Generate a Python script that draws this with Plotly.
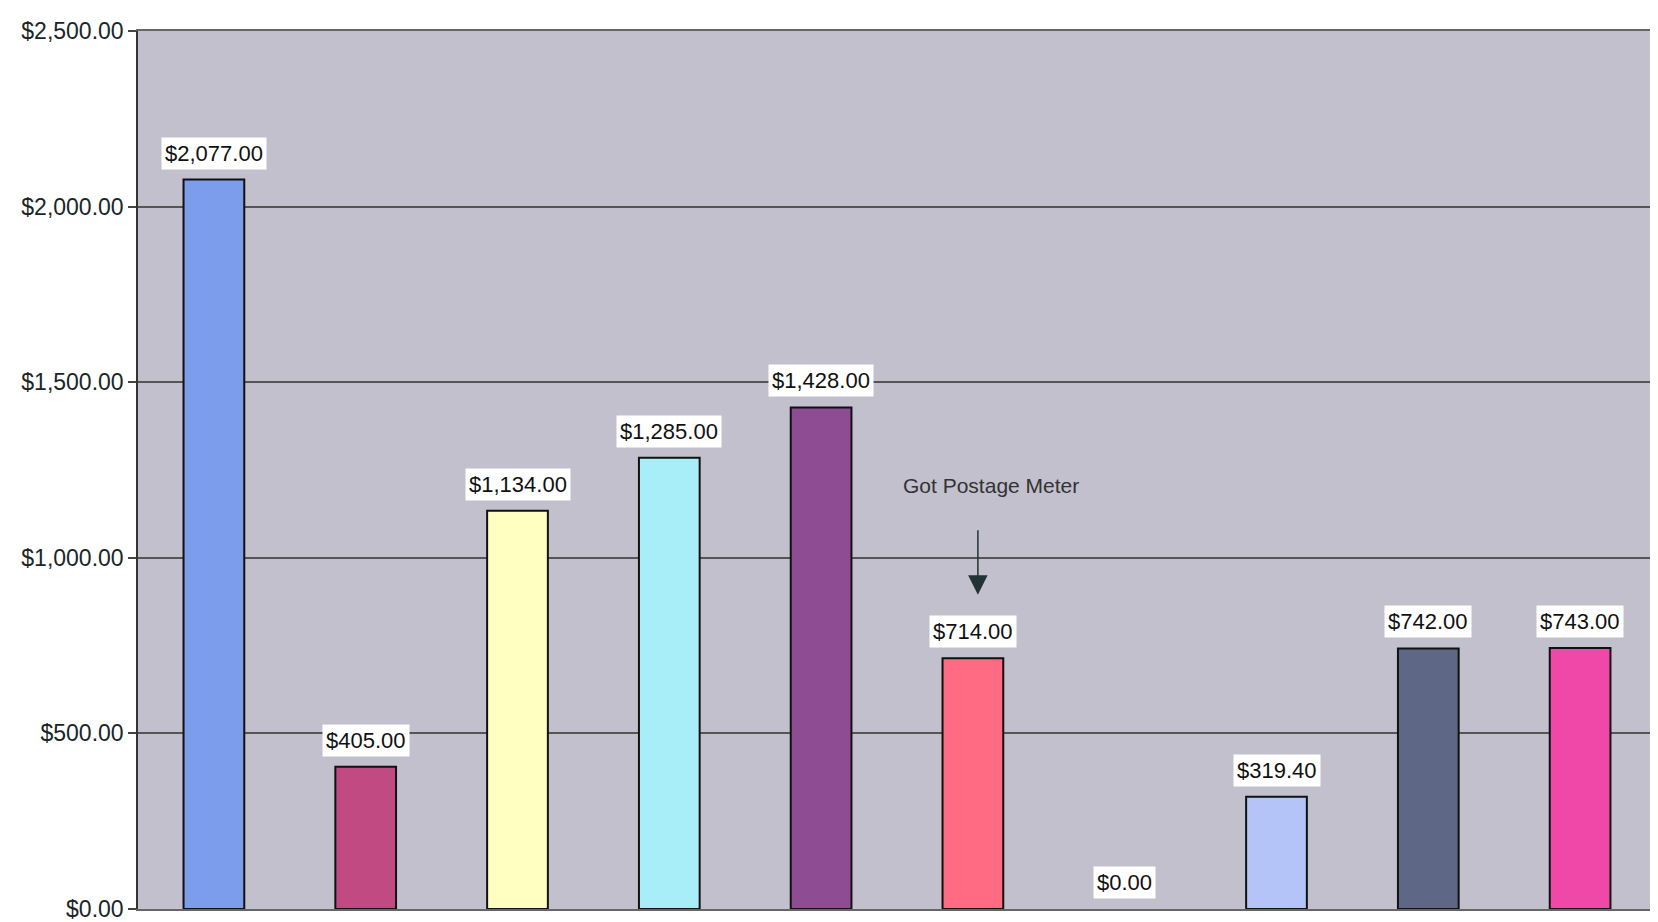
import plotly.graph_objects as go

categories = ["A", "B", "C", "D", "E", "F", "G", "H", "I", "J"]
values = [2077.00, 405.00, 1134.00, 1285.00, 1428.00, 714.00, 0.00, 319.40, 742.00, 743.00]
bar_colors = ["#7B9DEB", "#C24A82", "#FFFFC2", "#A8EEF8", "#8E4C92",
              "#FF6B82", "#B4C4F8", "#B4C4F8", "#5E6886", "#F048A8"]
tick_values = [0, 500, 1000, 1500, 2000, 2500]
tick_labels = ["$0.00", "$500.00", "$1,000.00", "$1,500.00", "$2,000.00", "$2,500.00"]
note_text = "Got Postage Meter"
note_category = "F"
note_tip_value = 895
note_text_value = 1205

fig = go.Figure()
fig.add_trace(go.Bar(
    x=categories, y=values,
    marker=dict(color=bar_colors,
                line=dict(color="#111111", width=[0 if v == 0 else 2 for v in values])),
    hoverinfo="skip",
))

label_font = dict(family="Liberation Sans, Arial", size=22, color="#111")
for c, v in zip(categories, values):
    fig.add_annotation(
        x=c, y=v, text="${:,.2f}".format(v), showarrow=False,
        yanchor="bottom", yshift=10, bgcolor="white", borderpad=3,
        font=label_font,
    )

fig.add_annotation(
    x=note_category, y=note_tip_value, text="", showarrow=True,
    ax=0, ay=-66, arrowhead=2, arrowsize=2.6, arrowwidth=1.5, arrowcolor="#223333",
    xshift=5,
)
fig.add_annotation(
    x=note_category, y=note_text_value, text=note_text, showarrow=False,
    xshift=18, font=dict(family="Liberation Sans, Arial", size=21, color="#333"),
)

fig.update_layout(
    width=1658, height=922,
    margin=dict(l=130, r=8, t=23, b=15),
    paper_bgcolor="white",
    plot_bgcolor="#C2C0CD",
    showlegend=False,
    bargap=0.6,
)
fig.update_xaxes(
    type="category",
    showticklabels=False, showgrid=False, ticks="",
    showline=True, linecolor="#666", linewidth=1.5, mirror=True,
)
fig.update_yaxes(
    range=[0, 2500], tickvals=tick_values, ticktext=tick_labels,
    showgrid=True, gridcolor="#555555", gridwidth=1.5,
    ticks="outside", ticklen=8, tickcolor="#444", tickwidth=1.5,
    showline=True, linecolor="#333", linewidth=1.5, mirror=True,
    zeroline=False,
    tickfont=dict(family="Liberation Sans, Arial", size=23, color="#1a2626"),
)

fig.write_html("out.html")
